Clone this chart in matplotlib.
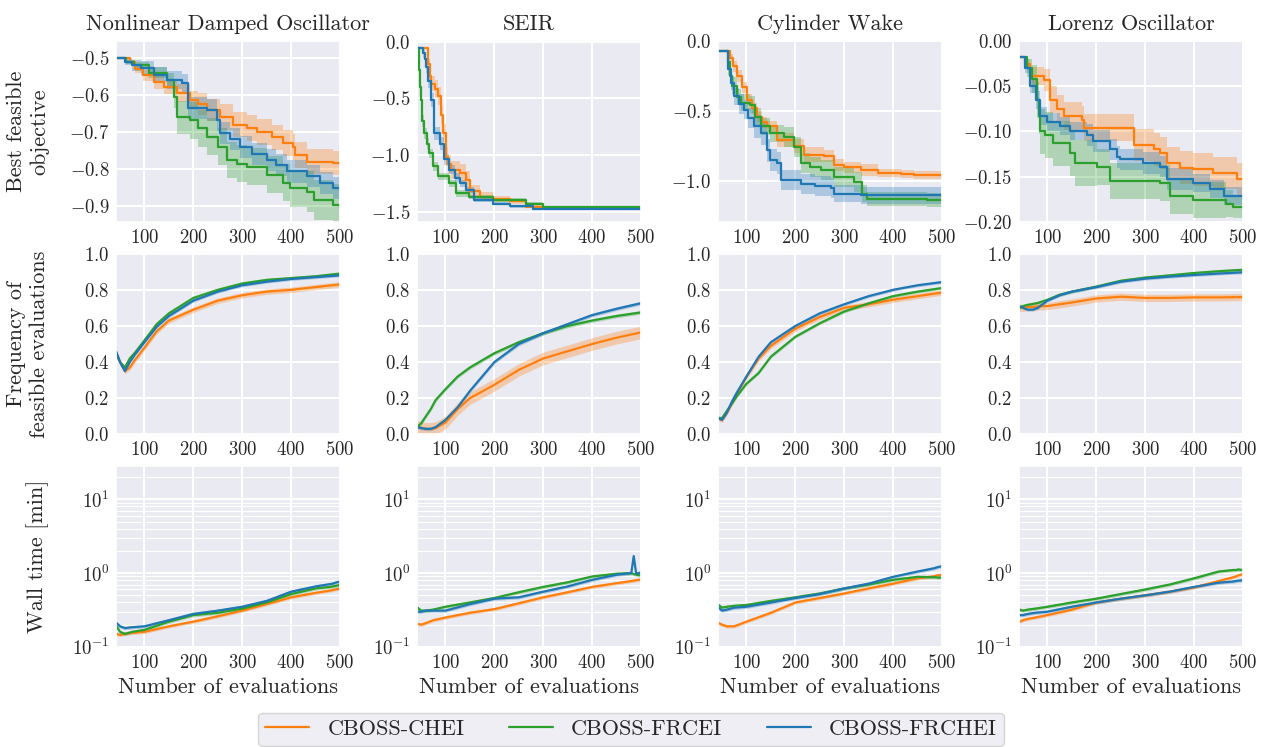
"""Recreate the CBOSS benchmark grid: best objective, feasible frequency, wall time."""

import matplotlib

matplotlib.use("Agg")
import matplotlib.pyplot as plt
import seaborn as sns

# ---------------------------------------------------------------- data
problems = ["Nonlinear Damped Oscillator", "SEIR", "Cylinder Wake", "Lorenz Oscillator"]
methods = ["CBOSS-CHEI", "CBOSS-FRCEI", "CBOSS-FRCHEI"]
colors = ["#ff7f0e", "#2ca02c", "#1f77b4"]

x_ticks = [100, 200, 300, 400, 500]
obj_yticks = [
    [-0.9, -0.8, -0.7, -0.6, -0.5],
    [-1.5, -1.0, -0.5, 0.0],
    [-1.0, -0.5, 0.0],
    [-0.20, -0.15, -0.10, -0.05, 0.00],
]
obj_ylims = [(-0.943, -0.454), (-1.59, 0.005), (-1.29, 0.0), (-0.20, 0.0)]
freq_yticks = [0.0, 0.2, 0.4, 0.6, 0.8, 1.0]

# Row 1: best feasible objective (step curves: breakpoints, mean, band half-width)
nlo_chei_x = [43, 71, 80, 98, 120, 139, 167, 194, 210, 228, 255, 282, 310, 330, 360, 384, 404, 408, 432, 486, 500]
nlo_chei_y = [-0.5, -0.51, -0.53, -0.546, -0.565, -0.578, -0.595, -0.613, -0.625, -0.64, -0.66, -0.68,
              -0.69, -0.70, -0.715, -0.73, -0.74, -0.762, -0.78, -0.784, -0.79]
nlo_chei_sd = [0, 0.005, 0.01, 0.015, 0.02, 0.02, 0.025, 0.025, 0.03, 0.03, 0.035, 0.035, 0.035, 0.035,
               0.035, 0.035, 0.035, 0.035, 0.035, 0.033, 0.033]
nlo_frcei_x = [43, 62, 78, 110, 147, 160, 167, 194, 210, 228, 250, 269, 290, 310, 350, 384, 398, 432, 446, 486, 500]
nlo_frcei_y = [-0.5, -0.51, -0.52, -0.54, -0.56, -0.605, -0.66, -0.668, -0.69, -0.713, -0.74, -0.776,
               -0.786, -0.794, -0.816, -0.838, -0.852, -0.862, -0.884, -0.897, -0.905]
nlo_frcei_sd = [0, 0.005, 0.01, 0.015, 0.02, 0.03, 0.045, 0.05, 0.05, 0.05, 0.05, 0.05, 0.05, 0.05,
                0.05, 0.05, 0.05, 0.055, 0.055, 0.055, 0.055]
nlo_frchei_x = [43, 60, 75, 92, 120, 147, 177, 190, 228, 249, 255, 275, 296, 320, 350, 370, 392, 432, 459, 486, 500]
nlo_frchei_y = [-0.5, -0.51, -0.52, -0.527, -0.545, -0.56, -0.568, -0.635, -0.64, -0.668, -0.703, -0.72,
                -0.74, -0.76, -0.776, -0.79, -0.807, -0.82, -0.838, -0.852, -0.857]
nlo_frchei_sd = [0, 0.01, 0.015, 0.02, 0.02, 0.025, 0.025, 0.03, 0.03, 0.03, 0.03, 0.03, 0.03, 0.03,
                 0.03, 0.03, 0.03, 0.03, 0.03, 0.03, 0.03]

seir_chei_x = [42, 64, 68, 71, 78, 84, 90, 95, 101, 106, 112, 129, 142, 150, 170, 197, 231, 265, 300, 500]
seir_chei_y = [-0.06, -0.2, -0.3, -0.37, -0.42, -0.48, -0.65, -0.81, -1.015, -1.08, -1.13, -1.16, -1.22,
               -1.32, -1.37, -1.39, -1.41, -1.456, -1.47, -1.47]
seir_chei_sd = [0, 0.05, 0.06, 0.07, 0.08, 0.08, 0.08, 0.08, 0.08, 0.08, 0.08, 0.08, 0.08, 0.05, 0.04,
                0.03, 0.02, 0.01, 0.01, 0.01]
seir_frcei_x = [42, 45, 48, 50, 53, 57, 62, 67, 75, 84, 108, 122, 149, 197, 265, 299, 500]
seir_frcei_y = [-0.06, -0.25, -0.4, -0.515, -0.7, -0.81, -0.9, -0.985, -1.1, -1.19, -1.25, -1.34, -1.37,
                -1.40, -1.43, -1.46, -1.46]
seir_frcei_sd = [0, 0.04, 0.05, 0.05, 0.05, 0.05, 0.05, 0.04, 0.04, 0.03, 0.03, 0.03, 0.02, 0.02, 0.01,
                 0.01, 0.01]
seir_frchei_x = [42, 54, 58, 60, 65, 71, 77, 88, 98, 108, 120, 129, 142, 159, 197, 231, 280, 500]
seir_frchei_y = [-0.06, -0.1, -0.15, -0.22, -0.35, -0.515, -0.81, -0.9, -1.04, -1.13, -1.2, -1.25, -1.31,
                 -1.40, -1.43, -1.455, -1.475, -1.475]
seir_frchei_sd = [0, 0.04, 0.05, 0.06, 0.06, 0.06, 0.06, 0.06, 0.05, 0.04, 0.04, 0.03, 0.03, 0.02, 0.01,
                  0.01, 0.01, 0.01]

cyl_chei_x = [42, 66, 72, 81, 90, 101, 112, 122, 132, 142, 163, 197, 217, 258, 279, 300, 334, 368, 416, 443, 500]
cyl_chei_y = [-0.07, -0.12, -0.18, -0.25, -0.33, -0.42, -0.48, -0.54, -0.58, -0.61, -0.705, -0.75, -0.81,
              -0.82, -0.885, -0.9, -0.92, -0.94, -0.95, -0.957, -0.96]
cyl_chei_sd = [0, 0.03, 0.04, 0.04, 0.04, 0.04, 0.04, 0.04, 0.04, 0.04, 0.05, 0.05, 0.05, 0.04, 0.04,
               0.04, 0.04, 0.03, 0.03, 0.03, 0.03]
cyl_frcei_x = [42, 63, 67, 71, 80, 88, 108, 118, 129, 149, 176, 197, 211, 230, 252, 279, 320, 337, 347, 402, 470, 500]
cyl_frcei_y = [-0.07, -0.15, -0.25, -0.32, -0.4, -0.44, -0.455, -0.54, -0.61, -0.66, -0.685, -0.755,
               -0.87, -0.9, -0.92, -0.97, -1.005, -1.09, -1.125, -1.13, -1.135, -1.14]
cyl_frcei_sd = [0, 0.04, 0.05, 0.06, 0.06, 0.06, 0.06, 0.06, 0.06, 0.06, 0.07, 0.07, 0.07, 0.07, 0.07,
                0.07, 0.07, 0.06, 0.05, 0.05, 0.05, 0.05]
cyl_frchei_x = [42, 62, 68, 74, 84, 94, 104, 115, 129, 142, 149, 163, 170, 211, 240, 272, 279, 334, 500]
cyl_frchei_y = [-0.07, -0.2, -0.3, -0.395, -0.45, -0.49, -0.55, -0.61, -0.66, -0.78, -0.85, -0.87, -0.99,
                -1.02, -1.035, -1.05, -1.09, -1.10, -1.11]
cyl_frchei_sd = [0, 0.04, 0.05, 0.06, 0.07, 0.07, 0.07, 0.08, 0.08, 0.08, 0.08, 0.08, 0.07, 0.07, 0.07,
                 0.07, 0.06, 0.06, 0.06]

lor_chei_x = [43, 55, 65, 92, 105, 119, 133, 170, 174, 269, 276, 317, 330, 344, 370, 398, 439, 487, 500]
lor_chei_y = [-0.018, -0.025, -0.039, -0.043, -0.065, -0.075, -0.083, -0.087, -0.096, -0.096, -0.115,
              -0.12, -0.124, -0.135, -0.14, -0.142, -0.146, -0.153, -0.155]
lor_chei_sd = [0, 0.005, 0.01, 0.012, 0.015, 0.015, 0.015, 0.015, 0.015, 0.015, 0.018, 0.018, 0.018,
               0.018, 0.018, 0.018, 0.018, 0.018, 0.018]
lor_frcei_x = [43, 58, 68, 78, 82, 85, 95, 112, 146, 157, 201, 228, 330, 351, 398, 466, 480, 500]
lor_frcei_y = [-0.018, -0.03, -0.042, -0.065, -0.083, -0.10, -0.104, -0.113, -0.124, -0.135, -0.139,
               -0.155, -0.157, -0.172, -0.176, -0.18, -0.184, -0.184]
lor_frcei_sd = [0, 0.01, 0.015, 0.02, 0.02, 0.025, 0.025, 0.025, 0.025, 0.025, 0.02, 0.02, 0.02, 0.02,
                0.02, 0.015, 0.012, 0.012]
lor_frchei_x = [43, 54, 65, 76, 85, 99, 126, 146, 180, 194, 228, 242, 249, 296, 330, 344, 398, 432, 460, 500]
lor_frchei_y = [-0.018, -0.03, -0.05, -0.065, -0.083, -0.09, -0.094, -0.10, -0.104, -0.111, -0.12,
                -0.128, -0.131, -0.135, -0.139, -0.153, -0.157, -0.164, -0.172, -0.175]
lor_frchei_sd = [0, 0.005, 0.008, 0.01, 0.01, 0.01, 0.01, 0.01, 0.012, 0.012, 0.012, 0.012, 0.012,
                 0.012, 0.012, 0.012, 0.01, 0.01, 0.01, 0.01]

# Row 2: frequency of feasible evaluations
freq_x = [42, 50, 60, 70, 80, 100, 125, 150, 200, 250, 300, 350, 400, 450, 500]
nlo_freq_chei = [0.45, 0.40, 0.35, 0.37, 0.41, 0.48, 0.57, 0.63, 0.69, 0.74, 0.77, 0.79, 0.80, 0.815, 0.83]
nlo_freq_frcei = [0.45, 0.40, 0.37, 0.42, 0.45, 0.52, 0.61, 0.67, 0.755, 0.80, 0.835, 0.855, 0.865, 0.875, 0.89]
nlo_freq_frchei = [0.46, 0.40, 0.35, 0.40, 0.44, 0.51, 0.595, 0.655, 0.74, 0.79, 0.825, 0.845, 0.86, 0.87, 0.88]
seir_freq_chei = [0.04, 0.035, 0.03, 0.03, 0.035, 0.065, 0.14, 0.20, 0.274, 0.357, 0.42, 0.46, 0.50, 0.535, 0.564]
seir_freq_frcei = [0.04, 0.06, 0.10, 0.14, 0.19, 0.25, 0.32, 0.37, 0.449, 0.51, 0.56, 0.60, 0.63, 0.655, 0.675]
seir_freq_frchei = [0.04, 0.035, 0.03, 0.03, 0.04, 0.08, 0.15, 0.24, 0.40, 0.50, 0.56, 0.61, 0.66, 0.695, 0.726]
cyl_freq_chei = [0.09, 0.08, 0.12, 0.17, 0.22, 0.32, 0.42, 0.49, 0.585, 0.65, 0.70, 0.72, 0.745, 0.765, 0.785]
cyl_freq_frcei = [0.09, 0.09, 0.13, 0.17, 0.21, 0.28, 0.34, 0.43, 0.54, 0.615, 0.68, 0.725, 0.765, 0.79, 0.81]
cyl_freq_frchei = [0.09, 0.08, 0.12, 0.18, 0.23, 0.32, 0.43, 0.51, 0.60, 0.67, 0.72, 0.765, 0.80, 0.825, 0.843]
lor_freq_chei = [0.70, 0.70, 0.705, 0.705, 0.708, 0.71, 0.72, 0.73, 0.752, 0.762, 0.755, 0.755, 0.758, 0.758, 0.76]
lor_freq_frcei = [0.70, 0.71, 0.717, 0.722, 0.727, 0.745, 0.773, 0.79, 0.818, 0.85, 0.868, 0.88, 0.893, 0.903, 0.911]
lor_freq_frchei = [0.71, 0.70, 0.69, 0.69, 0.70, 0.74, 0.77, 0.79, 0.815, 0.845, 0.862, 0.873, 0.882, 0.89, 0.897]
# band half-width per method (CHEI, FRCEI, FRCHEI) per problem
freq_band = [(0.015, 0.008, 0.008), (0.035, 0.01, 0.01), (0.015, 0.008, 0.008), (0.02, 0.008, 0.008)]

# Row 3: wall time [min]
time_x = [43, 50, 60, 75, 100, 150, 200, 250, 300, 350, 400, 450, 480, 485, 490, 500]
nlo_time_chei = [0.15, 0.145, 0.15, 0.155, 0.16, 0.19, 0.22, 0.26, 0.31, 0.38, 0.47, 0.54, 0.58, 0.59, 0.60, 0.62]
nlo_time_frcei = [0.19, 0.16, 0.15, 0.16, 0.17, 0.22, 0.27, 0.29, 0.33, 0.40, 0.52, 0.62, 0.65, 0.66, 0.67, 0.69]
nlo_time_frchei = [0.21, 0.19, 0.18, 0.185, 0.19, 0.23, 0.28, 0.31, 0.35, 0.42, 0.56, 0.66, 0.71, 0.72, 0.74, 0.77]
seir_time_chei = [0.205, 0.20, 0.21, 0.23, 0.25, 0.29, 0.325, 0.39, 0.47, 0.55, 0.65, 0.73, 0.78, 0.79, 0.80, 0.82]
seir_time_frcei = [0.34, 0.31, 0.31, 0.32, 0.35, 0.40, 0.46, 0.55, 0.65, 0.75, 0.90, 0.98, 1.0, 0.97, 0.95, 0.93]
seir_time_frchei = [0.30, 0.30, 0.31, 0.31, 0.31, 0.38, 0.45, 0.47, 0.56, 0.66, 0.81, 0.95, 1.0, 1.7, 0.98, 1.02]
cyl_time_chei = [0.21, 0.20, 0.19, 0.19, 0.22, 0.29, 0.40, 0.46, 0.53, 0.62, 0.72, 0.85, 0.90, 0.91, 0.93, 0.95]
cyl_time_frcei = [0.37, 0.34, 0.35, 0.36, 0.37, 0.42, 0.47, 0.53, 0.62, 0.70, 0.81, 0.89, 0.88, 0.88, 0.87, 0.87]
cyl_time_frchei = [0.34, 0.31, 0.32, 0.34, 0.35, 0.40, 0.46, 0.52, 0.62, 0.72, 0.89, 1.05, 1.15, 1.17, 1.2, 1.24]
lor_time_chei = [0.22, 0.23, 0.24, 0.25, 0.27, 0.32, 0.40, 0.45, 0.50, 0.56, 0.64, 0.78, 0.88, 0.90, 0.93, 0.97]
lor_time_frcei = [0.32, 0.31, 0.32, 0.33, 0.35, 0.40, 0.45, 0.52, 0.60, 0.70, 0.85, 1.05, 1.1, 1.1, 1.12, 1.1]
lor_time_frchei = [0.27, 0.27, 0.28, 0.29, 0.30, 0.35, 0.40, 0.45, 0.50, 0.56, 0.65, 0.74, 0.77, 0.78, 0.79, 0.80]
time_ylim = (0.1, 28)

obj_data = [
    [(nlo_chei_x, nlo_chei_y, nlo_chei_sd), (nlo_frcei_x, nlo_frcei_y, nlo_frcei_sd),
     (nlo_frchei_x, nlo_frchei_y, nlo_frchei_sd)],
    [(seir_chei_x, seir_chei_y, seir_chei_sd), (seir_frcei_x, seir_frcei_y, seir_frcei_sd),
     (seir_frchei_x, seir_frchei_y, seir_frchei_sd)],
    [(cyl_chei_x, cyl_chei_y, cyl_chei_sd), (cyl_frcei_x, cyl_frcei_y, cyl_frcei_sd),
     (cyl_frchei_x, cyl_frchei_y, cyl_frchei_sd)],
    [(lor_chei_x, lor_chei_y, lor_chei_sd), (lor_frcei_x, lor_frcei_y, lor_frcei_sd),
     (lor_frchei_x, lor_frchei_y, lor_frchei_sd)],
]
freq_data = [
    [nlo_freq_chei, nlo_freq_frcei, nlo_freq_frchei],
    [seir_freq_chei, seir_freq_frcei, seir_freq_frchei],
    [cyl_freq_chei, cyl_freq_frcei, cyl_freq_frchei],
    [lor_freq_chei, lor_freq_frcei, lor_freq_frchei],
]
time_data = [
    [nlo_time_chei, nlo_time_frcei, nlo_time_frchei],
    [seir_time_chei, seir_time_frcei, seir_time_frchei],
    [cyl_time_chei, cyl_time_frcei, cyl_time_frchei],
    [lor_time_chei, lor_time_frcei, lor_time_frchei],
]


def main() -> None:
    sns.set_theme(style="darkgrid")
    plt.rcParams.update({
        "font.family": "serif",
        "font.serif": ["cmr10"],
        "mathtext.fontset": "cm",
        "axes.formatter.use_mathtext": True,
        "axes.unicode_minus": True,
        "xtick.labelsize": 13.5,
        "ytick.labelsize": 13.5,
        "axes.labelsize": 16,
        "axes.titlesize": 16,
        "grid.linewidth": 1.5,
    })

    fig, axes = plt.subplots(3, 4, figsize=(12.62, 7.47), dpi=100)
    fig.subplots_adjust(left=0.092, right=0.985, top=0.945, bottom=0.134, wspace=0.344, hspace=0.177)

    handles = []
    for j, name in enumerate(problems):
        ax0, ax1, ax2 = axes[0, j], axes[1, j], axes[2, j]
        ax0.set_title(name, pad=8)

        for k, (xs, ys, sd) in enumerate(obj_data[j]):
            lo = [y - s for y, s in zip(ys, sd)]
            hi = [y + s for y, s in zip(ys, sd)]
            ax0.fill_between(xs, lo, hi, step="post", color=colors[k], alpha=0.3, lw=0)
            (ln,) = ax0.plot(xs, ys, drawstyle="steps-post", color=colors[k], lw=1.6, label=methods[k])
            if j == 0:
                handles.append(ln)
        ax0.set_ylim(*obj_ylims[j])
        ax0.set_yticks(obj_yticks[j])

        for k, ys in enumerate(freq_data[j]):
            w = freq_band[j][k]
            ax1.fill_between(freq_x, [y - w for y in ys], [y + w for y in ys], color=colors[k], alpha=0.3, lw=0)
            ax1.plot(freq_x, ys, color=colors[k], lw=1.6)
        ax1.set_ylim(0, 1)
        ax1.set_yticks(freq_yticks)

        for k, ys in enumerate(time_data[j]):
            ax2.fill_between(time_x, [y * 0.95 for y in ys], [y * 1.05 for y in ys], color=colors[k],
                             alpha=0.3, lw=0)
            ax2.plot(time_x, ys, color=colors[k], lw=1.6)
        ax2.set_yscale("log")
        ax2.set_ylim(*time_ylim)
        ax2.grid(True, which="minor", color="white", linewidth=0.8)
        ax2.set_xlabel("Number of evaluations")

        for ax in (ax0, ax1, ax2):
            ax.set_xlim(42, 500)
            ax.set_xticks(x_ticks)
            ax.tick_params(which="both", length=0, pad=5)

    axes[0, 0].set_ylabel("Best feasible\nobjective")
    axes[1, 0].set_ylabel("Frequency of\nfeasible evaluations")
    axes[2, 0].set_ylabel("Wall time [min]")
    for ax in axes[:, 0]:
        ax.yaxis.set_label_coords(-0.3, 0.5)

    # legend frame starts just under the x labels and runs off the bottom edge
    fig.legend(handles, methods, loc="upper center", bbox_to_anchor=(0.5, 0.046), ncol=3,
               fontsize=16, frameon=True, borderaxespad=0, borderpad=0.3)
    fig.savefig("out.png", dpi=100)


if __name__ == "__main__":
    main()
